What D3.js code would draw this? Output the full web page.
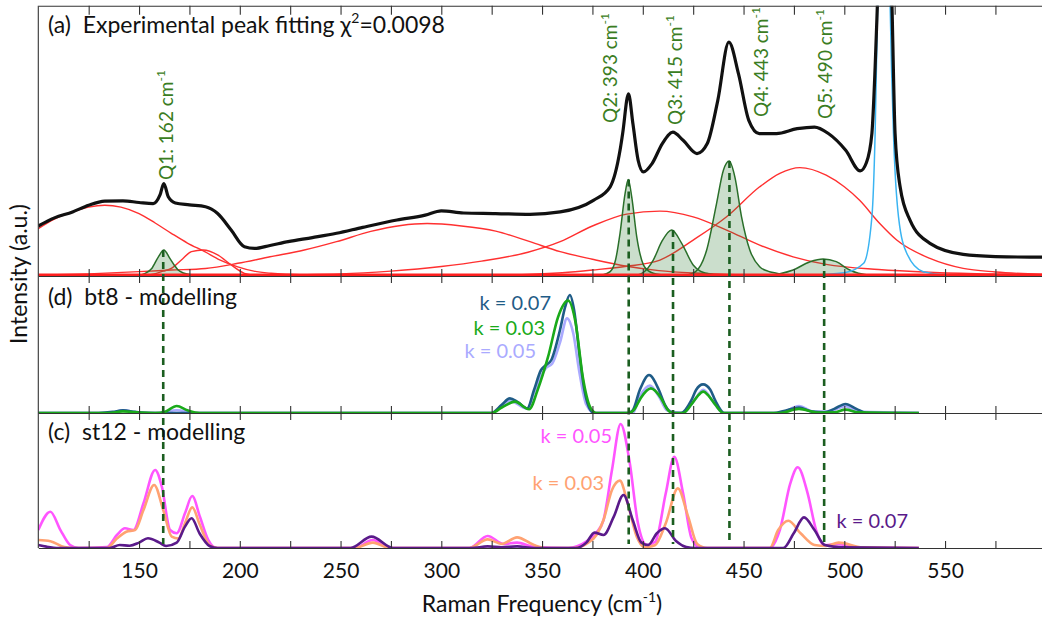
<!DOCTYPE html>
<html>
<head>
<meta charset="utf-8">
<script src="https://cdn.jsdelivr.net/npm/d3@7"></script>
<style>
  body { margin: 0; background: #fff; }
  svg { display: block; font-family: Lato, "Open Sans", sans-serif; }
</style>
</head>
<body>
<svg id="chart" width="1042" height="623"></svg>
<script>
// values: [Raman shift cm-1, intensity (panel-normalised a.u.)]

// (a) experimental spectrum
const measured = [[100,0.185],[108,0.215],[117,0.237],[125,0.262],[133,0.277],[142,0.278],[150,0.272],[157,0.268],
  [160.4,0.300],[162.3,0.342],[164.5,0.293],[168,0.270],[175,0.263],[183,0.256],[189,0.231],[195.7,0.170],
  [202.3,0.108],[207.3,0.102],[215,0.113],[224,0.127],[236,0.142],[248,0.158],[261,0.180],[278,0.207],
  [292,0.225],[300,0.241],[311,0.233],[327,0.231],[344,0.228],[359,0.237],[375.5,0.280],[383.8,0.330],
  [388.7,0.465],[390,0.527],[392.9,0.674],[395.1,0.563],[397.7,0.428],[400.3,0.385],[404.6,0.416],
  [409.7,0.490],[414.9,0.532],[420,0.502],[426.9,0.453],[432,0.490],[437.2,0.649],[442.7,0.865],
  [447.5,0.748],[452.6,0.576],[457.8,0.527],[466.3,0.527],[476.6,0.545],[485.2,0.551],[492.1,0.527],
  [500.7,0.465],[507.9,0.389],[511,0.42],[513.7,0.528],[515.3,0.772],[516.5,1.02],[520,1.8],[523.6,1.02],
  [525.2,0.527],[527.7,0.330],[532.6,0.207],[542.5,0.121],[559,0.080],[575,0.072],[592,0.070],[600,0.070]];

// (a) broad fitted bands (red)
const band1 = [[100,0.175],[108,0.21],[117,0.237],[125,0.255],[133,0.262],[141,0.255],[150,0.231],[158,0.196],
  [166,0.158],[174,0.122],[182.6,0.090],[190,0.060],[199,0.034],[207,0.018],[215.5,0.010],[232,0.004],[260,0.002],[600,0.001]];
const band2 = [[150,0.002],[157,0.007],[162,0.018],[166,0.028],[171,0.059],[176,0.090],[181.8,0.096],
  [189.2,0.077],[195.7,0.041],[202.3,0.010],[209,0.002],[220,0.001]];
const band3 = [[100,0.003],[125,0.008],[150,0.016],[166,0.022],[183,0.028],[199,0.047],[215,0.071],[232,0.096],
  [248,0.127],[265,0.165],[280,0.187],[293,0.194],[310,0.185],[327,0.166],[344,0.127],[359,0.090],[375,0.062],
  [392,0.036],[408,0.020],[425,0.011],[442,0.006],[475,0.003],[600,0.001]];
const band4 = [[150,0.001],[200,0.003],[250,0.008],[275,0.018],[300,0.035],[320,0.055],[343,0.088],[359,0.127],
  [375,0.185],[392,0.229],[408.5,0.240],[425,0.219],[441.6,0.170],[458,0.114],[474.6,0.071],[491,0.043],
  [517,0.024],[542,0.014],[570,0.008],[600,0.005]];
const band5 = [[300,0.001],[340,0.005],[360,0.012],[375,0.022],[392,0.036],[408.5,0.059],[425,0.133],[441.6,0.219],
  [458,0.330],[468,0.380],[478,0.401],[491,0.373],[500,0.33],[507.6,0.280],[517.6,0.194],[526,0.133],
  [542.5,0.065],[559,0.028],[575,0.015],[600,0.006]];
const fitBaseline = [[100,0.004],[600,0.004]];

// (a) Si band (blue)
const siliconBand = [[480,0.002],[500,0.012],[509.6,0.047],[513.7,0.219],[515.3,0.527],[516.6,1.02],[519.7,3.0],
  [522.7,1.02],[524.4,0.527],[526.9,0.219],[531,0.084],[539.2,0.016],[550.8,0.004],[600,0.001]];

// (a) Q peaks (green)
const peakQ1 = [[140,0],[149.7,0.003],[153,0.010],[156.3,0.028],[159.6,0.071],[162.3,0.096],[165.3,0.065],
  [167.5,0.040],[169.4,0.022],[172,0.011],[176,0.005],[185,0]];
const peakQ2 = [[375,0],[380,0.004],[383.8,0.016],[386.5,0.06],[388.7,0.158],[391.2,0.305],[392.8,0.357],
  [394.5,0.293],[397,0.145],[400.3,0.041],[403,0.018],[405.2,0.01],[412,0.002],[420,0]];
const peakQ3 = [[395,0],[400,0.012],[405.2,0.059],[409.4,0.127],[414.3,0.170],[419.3,0.121],[425,0.041],
  [428.5,0.018],[431.7,0.01],[440,0]];
const peakQ4 = [[420,0],[426,0.015],[431.7,0.096],[436.6,0.268],[440,0.391],[442.9,0.425],[445.7,0.366],
  [449,0.219],[453.1,0.096],[458,0.034],[462,0.018],[466.4,0.01],[475,0]];
const peakQ5 = [[462,0],[468,0.008],[474.6,0.022],[483,0.053],[489.5,0.063],[496,0.053],[502.7,0.022],
  [507,0.01],[511,0.005],[520,0]];

const peakNames = ['Q1', 'Q2', 'Q3', 'Q4', 'Q5'];
const peakCentres = [162, 393, 415, 443, 490];
const peakTops = [0.096, 0.357, 0.170, 0.425, 0.063];

// (d) bt8 modelling
const bt8k007 = [[100,0],[130,0],[137,0.008],[142,0.02],[148,0.008],[155,0],[300,0],[324.7,0],[330,0.06],
  [334,0.107],[338,0.08],[342.7,0.034],[346,0.168],[349.5,0.314],[352,0.350],[354.6,0.387],[358.9,0.606],
  [361.5,0.776],[363.8,0.861],[365.9,0.752],[368.5,0.436],[371,0.168],[374,0.022],[376,0],[392.5,0],
  [395,0.02],[398.5,0.168],[403.1,0.277],[408,0.168],[411,0.06],[414.8,0],[419,0],[424,0.09],[426.5,0.17],
  [429.9,0.209],[433.5,0.17],[436,0.09],[440.5,0],[465,0],[470,0.015],[477.5,0.04],[484,0.01],[490,0.005],
  [495,0.03],[500.6,0.066],[506,0.03],[511,0],[537,0]];
const bt8k003 = [[100,0],[135,0],[142,0.012],[150,0.003],[158,0],[163,0.01],[168.7,0.051],[174,0.02],[180,0],
  [325,0],[330,0.04],[336.5,0.083],[343.6,0.027],[347.8,0.168],[353,0.411],[358,0.703],[362.9,0.820],
  [366.7,0.655],[370.2,0.265],[374,0.04],[377,0],[393,0],[396,0.03],[399,0.11],[404,0.180],[409,0.11],
  [412,0.03],[415,0],[420,0],[424,0.06],[427,0.12],[430,0.156],[433,0.12],[436,0.06],[440,0],[468,0],
  [477.5,0.03],[487,0.003],[495,0.005],[500.6,0.025],[507,0.005],[537,0]];
const bt8k005 = [[100,0],[135,0],[142,0.02],[150,0.003],[160,0],[168.7,0.02],[178,0],[325,0],[334,0.09],
  [342.7,0.03],[346,0.15],[352,0.33],[355,0.36],[359,0.52],[362.4,0.691],[365.5,0.58],[368.5,0.3],[372,0.06],
  [376,0],[395,0],[398.5,0.12],[403.5,0.2],[408,0.12],[412,0.02],[420,0],[425,0.08],[430,0.17],[435,0.08],
  [440,0],[468,0],[477.5,0.05],[485,0.01],[492,0.01],[500.6,0.05],[507,0.01],[537,0]];

// (c) st12 modelling
const st12k005 = [[100,0.133],[106,0.269],[111,0.133],[115.8,0.022],[120,0],[134,0.007],[139,0.096],[143,0.146],
  [147.2,0.133],[152.2,0.331],[158,0.578],[161.3,0.454],[165.4,0.133],[168.7,0.109],[172.8,0.257],[176.4,0.385],
  [180.2,0.232],[184.4,0.059],[188.5,0],[257,0],[266,0.059],[274.5,0],[314,0],[323,0.089],[331,0.03],
  [337.6,0.04],[346,0.007],[363,0],[371.9,0.047],[377,0.114],[380.5,0.207],[384.7,0.578],[389,0.919],
  [393.3,0.652],[397.6,0.183],[402,0.022],[406.2,0.047],[411.4,0.405],[415.6,0.676],[420,0.405],[424.2,0.072],
  [428.6,0],[462.9,0],[468,0.133],[473.2,0.479],[476.9,0.598],[481.8,0.405],[486,0.133],[490.3,0.02],
  [497.2,0.03],[505,0.003],[537,0]];
const st12k003 = [[100,0.059],[106,0.05],[113,0.007],[118,0],[134,0],[139,0.07],[143.7,0.121],[148,0.133],
  [152.2,0.281],[157.5,0.467],[162,0.281],[166.2,0.084],[169.5,0.07],[172.8,0.183],[176.4,0.301],[180.2,0.17],
  [185,0.02],[189,0],[257,0],[266,0.04],[274.5,0],[314,0],[323,0.064],[330,0.03],[337.6,0.079],[346,0.022],
  [352,0],[366,0],[372,0.03],[377,0.096],[380.5,0.207],[384.7,0.43],[388.6,0.499],[392.5,0.331],[397,0.084],
  [401,0.007],[406,0.02],[411.4,0.183],[417.4,0.442],[422.5,0.232],[427,0.03],[432,0],[463,0],[467.2,0.133],
  [472.3,0.202],[478.3,0.109],[485.2,0.022],[491,0.015],[497.2,0.04],[509,0.005],[537,0]];
const st12k007 = [[100,0.022],[104,0.01],[110,0],[135.4,0],[140.4,0.022],[145.3,0.017],[150,0.04],[154.4,0.072],
  [160.1,0.04],[163.4,0.015],[168.7,0.04],[172.8,0.158],[176.1,0.22],[180,0.109],[185,0.015],[189,0],[255,0],
  [265.4,0.084],[276,0],[315,0],[323,0.012],[330,0.005],[337.6,0.012],[346,0],[366.7,0],[372,0.04],[376,0.114],
  [380.5,0.096],[385.6,0.232],[390.4,0.393],[395,0.207],[399.3,0.04],[402.7,0.022],[407,0.109],[411,0.146],
  [416.5,0.052],[421.6,0.007],[426,0],[469.7,0],[474.9,0.109],[480,0.227],[485.2,0.133],[490.3,0.022],
  [499,0.005],[537,0]];

const tickMarks = [125,150,175,200,225,250,275,300,325,350,375,400,425,450,475,500,525,550,575,600];
const tickLabels = [150,200,250,300,350,400,450,500,550];

// ---------------------------------------------------------------------------

const svg = d3.select('#chart');
const W = 1042;

const x = d3.scaleLinear().domain([100, 600]).range([38.3, 1045.8]);
const yA = d3.scaleLinear().domain([0, 1]).range([276, 5.7]);
const yD = d3.scaleLinear().domain([0, 1]).range([413, 276]);
const yC = d3.scaleLinear().domain([0, 1]).range([548, 413]);

const lineIn = y => d3.line().x(d => x(d[0])).y(d => y(d[1])).curve(d3.curveMonotoneX);

// clip each panel
const defs = svg.append('defs');
[['clipA', yA], ['clipD', yD], ['clipC', yC]].forEach(([id, y]) => {
  defs.append('clipPath').attr('id', id).append('rect')
    .attr('x', x(100)).attr('y', y(1))
    .attr('width', W - x(100)).attr('height', y(0) - y(1));
});

// ---- panel (a) ----
const gA = svg.append('g').attr('clip-path', 'url(#clipA)');

gA.selectAll('.band')
  .data([band1, band2, band3, band4, band5])
  .enter()
  .append('path')
  .attr('class', 'band')
  .attr('d', lineIn(yA))
  .attr('fill', 'none')
  .attr('stroke', '#ff3030')
  .attr('stroke-width', 1.4);

const peakArea = d3.area().x(d => x(d[0])).y0(yA(0)).y1(d => yA(d[1])).curve(d3.curveMonotoneX);
gA.selectAll('.peak')
  .data([peakQ1, peakQ2, peakQ3, peakQ4, peakQ5])
  .enter()
  .append('path')
  .attr('class', 'peak')
  .attr('d', peakArea)
  .attr('fill', '#2e7d32')
  .attr('fill-opacity', 0.25)
  .attr('stroke', '#2a6f2a')
  .attr('stroke-width', 1.5);

gA.append('path')
  .datum(siliconBand)
  .attr('d', lineIn(yA))
  .attr('fill', 'none')
  .attr('stroke', '#3ab4f2')
  .attr('stroke-width', 1.5);

gA.append('path')
  .datum(fitBaseline)
  .attr('d', lineIn(yA))
  .attr('fill', 'none')
  .attr('stroke', '#ff2020')
  .attr('stroke-width', 2.6);

gA.append('path')
  .datum(measured)
  .attr('d', lineIn(yA))
  .attr('fill', 'none')
  .attr('stroke', '#111')
  .attr('stroke-width', 3.2)
  .attr('stroke-linejoin', 'round');

// ---- panel (d) ----
const gD = svg.append('g').attr('clip-path', 'url(#clipD)');
const bt8Series = [
  { data: bt8k005, color: '#aaaaff' },
  { data: bt8k007, color: '#1f5c87' },
  { data: bt8k003, color: '#1aaa1a' },
];
gD.selectAll('.bt8')
  .data(bt8Series)
  .enter()
  .append('path')
  .attr('class', 'bt8')
  .attr('d', s => lineIn(yD)(s.data))
  .attr('fill', 'none')
  .attr('stroke', s => s.color)
  .attr('stroke-width', 2.6);

// ---- panel (c) ----
const gC = svg.append('g').attr('clip-path', 'url(#clipC)');
const st12Series = [
  { data: st12k005, color: '#ff55ff' },
  { data: st12k003, color: '#ffa272' },
  { data: st12k007, color: '#5a1a8a' },
];
gC.selectAll('.st12')
  .data(st12Series)
  .enter()
  .append('path')
  .attr('class', 'st12')
  .attr('d', s => lineIn(yC)(s.data))
  .attr('fill', 'none')
  .attr('stroke', s => s.color)
  .attr('stroke-width', 2.6);

// dashed guides from each Q peak down to the modelling panels
svg.selectAll('.guide')
  .data(peakCentres)
  .enter()
  .append('line')
  .attr('class', 'guide')
  .attr('x1', d => x(d))
  .attr('x2', d => x(d))
  .attr('y1', (d, i) => yA(peakTops[i]))
  .attr('y2', yC(0.03))
  .attr('stroke', '#1b5e20')
  .attr('stroke-width', 2.6)
  .attr('stroke-dasharray', '7,5');

// ---- frame and ticks ----
const tickAxis = (gen, size) => gen(x).tickValues(tickMarks).tickSize(size).tickSizeOuter(0).tickFormat('');
const frame = svg.append('g').attr('class', 'frame');
frame.append('g').attr('transform', `translate(0,${yA(1)})`).call(tickAxis(d3.axisBottom, 9));
[yA(0), yD(0)].forEach(y0 => {
  frame.append('g').attr('transform', `translate(0,${y0})`).call(tickAxis(d3.axisTop, 7));
  frame.append('g').attr('transform', `translate(0,${y0})`).call(tickAxis(d3.axisBottom, 7));
});
frame.append('g').attr('transform', `translate(0,${yC(0)})`).call(tickAxis(d3.axisTop, 7));
frame.append('line')
  .attr('x1', x(100)).attr('x2', x(100))
  .attr('y1', yA(1)).attr('y2', yC(0));
frame.selectAll('path, line').attr('stroke', '#333').attr('stroke-width', 1.1);

const labelAxis = svg.append('g')
  .attr('transform', `translate(0,${yC(0)})`)
  .call(d3.axisBottom(x).tickValues(tickLabels).tickSize(0).tickPadding(15));
labelAxis.select('.domain').remove();
labelAxis.selectAll('text')
  .attr('fill', '#111')
  .style('font-family', 'Lato, sans-serif')
  .style('font-size', '21px');

// ---- text ----
const title = svg.append('text')
  .attr('x', 48).attr('y', 33)
  .style('font-size', '23px').attr('fill', '#111')
  .attr('xml:space', 'preserve');
title.append('tspan').text('(a)  Experimental peak fitting \u03c7');
title.append('tspan').attr('dy', -10).style('font-size', '14px').text('2');
title.append('tspan').attr('dy', 10).text('=0.0098');

svg.append('text')
  .attr('x', 48).attr('y', 305)
  .attr('xml:space', 'preserve')
  .style('font-size', '23px').attr('fill', '#111')
  .text('(d)  bt8 - modelling');
svg.append('text')
  .attr('x', 48).attr('y', 440)
  .attr('xml:space', 'preserve')
  .style('font-size', '23px').attr('fill', '#111')
  .text('(c)  st12 - modelling');

// peak labels (rotated)
const qLabelPos = [[173, 180], [617, 123], [682, 125], [768, 117], [832, 119]];
peakNames.forEach((name, i) => {
  const t = svg.append('text')
    .attr('transform', `translate(${qLabelPos[i][0]},${qLabelPos[i][1]}) rotate(-90)`)
    .style('font-size', '19px')
    .attr('fill', '#3a7d22');
  t.append('tspan').text(`${name}: ${peakCentres[i]} cm`);
  t.append('tspan').attr('dy', -8).style('font-size', '12px').text('-1');
});

// k labels
const bt8Labels = [
  { text: 'k = 0.07', color: '#1f5c87', x: 551, y: 310 },
  { text: 'k = 0.03', color: '#1aaa1a', x: 545, y: 335 },
  { text: 'k = 0.05', color: '#aaaaff', x: 536, y: 358 },
];
const st12Labels = [
  { text: 'k = 0.05', color: '#ff55ff', x: 612, y: 443 },
  { text: 'k = 0.03', color: '#ffa272', x: 604, y: 490 },
  { text: 'k = 0.07', color: '#5a1a8a', x: 908, y: 528 },
];
svg.selectAll('.klabel')
  .data(bt8Labels.concat(st12Labels))
  .enter()
  .append('text')
  .attr('class', 'klabel')
  .attr('x', d => d.x)
  .attr('y', d => d.y)
  .attr('text-anchor', 'end')
  .style('font-size', '20px')
  .attr('fill', d => d.color)
  .text(d => d.text);

// axis titles
const xTitle = svg.append('text')
  .attr('x', 542).attr('y', 612)
  .attr('text-anchor', 'middle')
  .style('font-size', '23px').attr('fill', '#111');
xTitle.append('tspan').text('Raman Frequency (cm');
xTitle.append('tspan').attr('dy', -10).style('font-size', '14px').text('-1');
xTitle.append('tspan').attr('dy', 10).text(')');

svg.append('text')
  .attr('transform', 'translate(27,274) rotate(-90)')
  .attr('text-anchor', 'middle')
  .style('font-size', '23px').attr('fill', '#111')
  .text('Intensity (a.u.)');
</script>
</body>
</html>
